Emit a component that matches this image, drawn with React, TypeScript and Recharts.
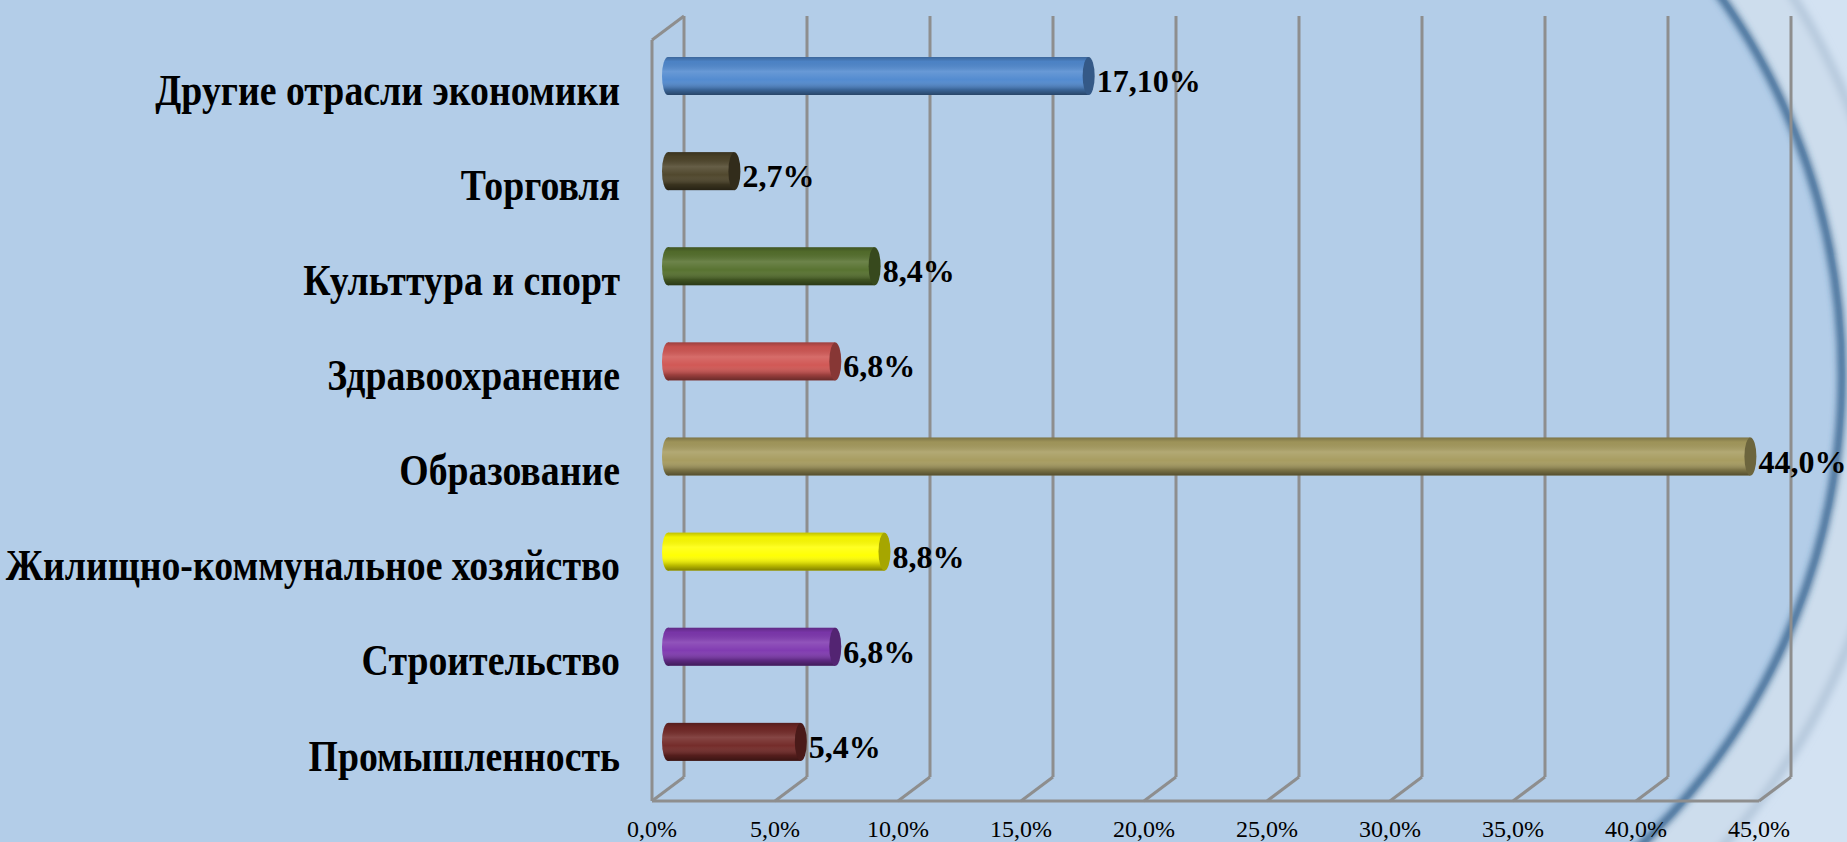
import { BarChart, Bar, XAxis, YAxis, CartesianGrid, Cell, LabelList } from 'recharts';

const CATEGORIES = [
  'Другие отрасли экономики',
  'Торговля',
  'Культтура и спорт',
  'Здравоохранение',
  'Образование',
  'Жилищно-коммунальное хозяйство',
  'Строительство',
  'Промышленность',
];
const SHARES = [17.1, 2.7, 8.4, 6.8, 44.0, 8.8, 6.8, 5.4];
const SHARE_LABELS = ['17,10%', '2,7%', '8,4%', '6,8%', '44,0%', '8,8%', '6,8%', '5,4%'];
const X_TICKS = [0, 5, 10, 15, 20, 25, 30, 35, 40, 45];

const COLORS = ['#5089cf', '#4d4429', '#55702d', '#d05552', '#a69b5e', '#ffff00', '#7f38b0', '#722826'];

const BG = '#b3cde8';
const BG_LIGHT = '#cddded';
const GRID = '#8e8e8e';
const SERIF = '"Liberation Serif", "Times New Roman", serif';
// 3d depth offset between the bar plane and the back wall / front edge
const DX = 16;
const DY = 12;

const rows = CATEGORIES.map((name, i) => ({ name, share: SHARES[i], label: SHARE_LABELS[i] }));

const fmtTick = (v: number) => `${v.toFixed(1).replace('.', ',')}%`;

function darken(hex: string, k: number) {
  const n = parseInt(hex.slice(1), 16);
  const r = Math.round(((n >> 16) & 255) * (1 - k));
  const g = Math.round(((n >> 8) & 255) * (1 - k));
  const b = Math.round((n & 255) * (1 - k));
  return `rgb(${r},${g},${b})`;
}

const Cylinder = (props: any) => {
  const { x, y, width, height, fill, index } = props;
  if (!height) return null;
  const cy = y + height / 2;
  const rx = 6;
  const gid = `shade-${index}`;
  return (
    <g>
      <defs>
        <linearGradient id={gid} x1="0" y1="0" x2="0" y2="1">
          <stop offset="0%" stopColor="#000" stopOpacity={0.25} />
          <stop offset="12%" stopColor="#000" stopOpacity={0.05} />
          <stop offset="38%" stopColor="#fff" stopOpacity={0.14} />
          <stop offset="60%" stopColor="#fff" stopOpacity={0.02} />
          <stop offset="85%" stopColor="#000" stopOpacity={0.25} />
          <stop offset="100%" stopColor="#000" stopOpacity={0.5} />
        </linearGradient>
      </defs>
      <ellipse cx={x} cy={cy} rx={rx} ry={height / 2} fill={fill} />
      <ellipse cx={x} cy={cy} rx={rx} ry={height / 2} fill={`url(#${gid})`} />
      <rect x={x} y={y} width={width} height={height} fill={fill} />
      <rect x={x} y={y} width={width} height={height} fill={`url(#${gid})`} />
      <ellipse cx={x + width} cy={cy} rx={rx} ry={height / 2} fill={darken(fill, 0.35)} />
    </g>
  );
};

const gridLine = (props: any) => {
  const { x1, y1, y2, index } = props;
  return (
    <g key={`grid-${index}-${x1}`}>
      <line x1={x1 + DX} y1={y1 - DY} x2={x1 + DX} y2={y2 - DY} stroke={GRID} strokeWidth={3} />
      <line x1={x1 + DX} y1={y2 - DY} x2={x1 - DX} y2={y2 + DY} stroke={GRID} strokeWidth={3} />
      {index === 0 && (
        <line x1={x1 - DX} y1={y1 + DY} x2={x1 + DX} y2={y1 - DY} stroke={GRID} strokeWidth={3} />
      )}
    </g>
  );
};

const XTick = ({ x, y, payload }: any) => (
  <text x={x - DX} y={y + 38} textAnchor="middle" dominantBaseline="central" fontFamily={SERIF} fontSize={24} fill="#000">
    {fmtTick(payload.value)}
  </text>
);

// the slide font is narrower than Liberation Serif, so squeeze the labels a bit
const YTick = ({ x, y, payload }: any) => (
  <g transform={`translate(${x - 48},${y + 14}) scale(0.84,1)`}>
    <text x={0} y={0} textAnchor="end" dominantBaseline="central" fontFamily={SERIF} fontSize={45} fontWeight={700} fill="#000">
      {payload.value}
    </text>
  </g>
);

const ValueLabel = (props: any) => {
  const { x, y, width, height, value } = props;
  return (
    <text x={x + width + 8} y={y + height / 2 + 5} dominantBaseline="central" fontFamily={SERIF} fontSize={32} fontWeight={700} fill="#000">
      {value}
    </text>
  );
};

function Backdrop() {
  return (
    <svg width={1847} height={842} style={{ position: 'absolute', left: 0, top: 0 }}>
      <defs>
        <filter id="soft" x="-10%" y="-10%" width="120%" height="120%">
          <feGaussianBlur stdDeviation="4" />
        </filter>
        <filter id="soft2" x="-10%" y="-10%" width="120%" height="120%">
          <feGaussianBlur stdDeviation="3.5" />
        </filter>
      </defs>
      <rect width={1847} height={842} fill="#d3e2f2" />
      <circle cx={1191} cy={375} r={711} fill={BG_LIGHT} stroke="#9db4cb" strokeWidth={5} filter="url(#soft)" />
      <circle cx={1191} cy={375} r={654} fill={BG} />
      <circle cx={1191} cy={375} r={651} fill="none" stroke="#2d5b87" strokeWidth={7} filter="url(#soft2)" />
      <rect x={0} y={0} width={1191} height={842} fill={BG} />
    </svg>
  );
}

export default function App() {
  return (
    <div style={{ position: 'absolute', left: 0, top: 0, width: 1847, height: 842, overflow: 'hidden' }}>
      <Backdrop />
      <div style={{ position: 'absolute', left: 0, top: 0 }}>
        <BarChart
          width={1847}
          height={842}
          data={rows}
          layout="vertical"
          margin={{ top: 28, right: 72, bottom: 0, left: 0 }}
          barCategoryGap={0}
        >
          <CartesianGrid horizontal={false} vertical={gridLine} />
          <XAxis
            type="number"
            dataKey="share"
            domain={[0, 45]}
            ticks={X_TICKS}
            height={53}
            tickSize={0}
            tickLine={false}
            axisLine={{ stroke: GRID, strokeWidth: 3, transform: `translate(${-DX} ${DY})` } as any}
            tick={<XTick />}
          />
          <YAxis
            type="category"
            dataKey="name"
            width={668}
            tickSize={0}
            tickMargin={0}
            tickLine={false}
            axisLine={{ stroke: GRID, strokeWidth: 3, transform: `translate(${-DX} ${DY})` } as any}
            tick={<YTick />}
            interval={0}
          />
          <Bar dataKey="share" barSize={38} shape={<Cylinder />} isAnimationActive={false}>
            {rows.map((_, i) => (
              <Cell key={i} fill={COLORS[i]} />
            ))}
            <LabelList dataKey="label" content={<ValueLabel />} />
          </Bar>
        </BarChart>
      </div>
    </div>
  );
}
